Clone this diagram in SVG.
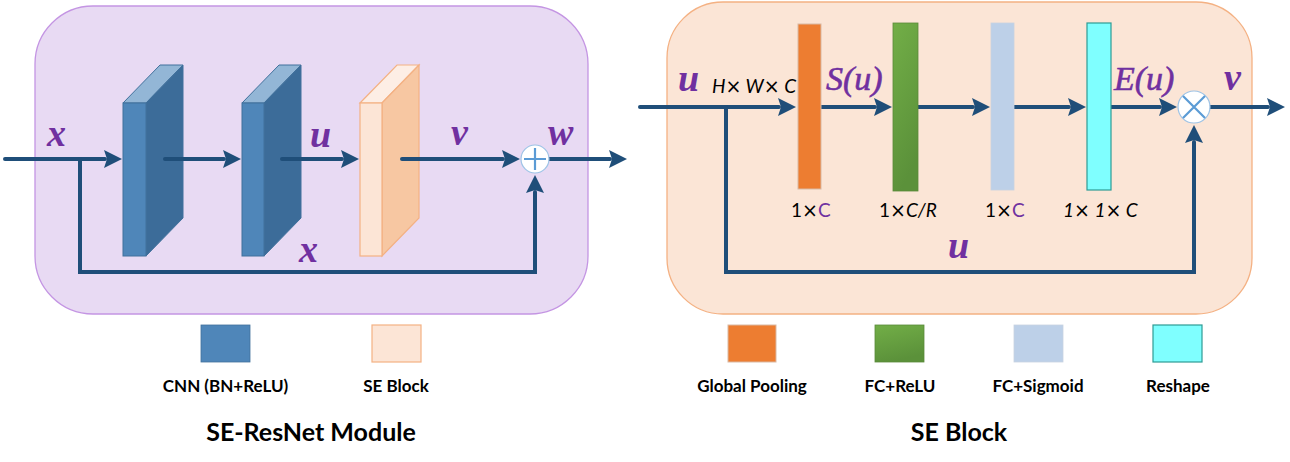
<svg xmlns="http://www.w3.org/2000/svg" width="1290" height="462" viewBox="0 0 1290 462">
<defs>
<marker id="arr" viewBox="0 0 18 18" refX="1" refY="9" markerWidth="18" markerHeight="18" markerUnits="userSpaceOnUse" orient="auto">
<path d="M0,0 L18,9 L0,18 L3,9 z" fill="#1F4E79"/>
</marker>
<linearGradient id="gGreen" x1="0" y1="0" x2="0.3" y2="1">
<stop offset="0" stop-color="#72AE47"/>
<stop offset="1" stop-color="#5B913A"/>
</linearGradient>
<style>
.conn{fill:none;stroke:#1F4E79;stroke-width:4;stroke-linecap:round;stroke-linejoin:miter}
.arrow{marker-end:url(#arr)}
.math{font-family:"Liberation Serif",serif;font-style:italic;font-weight:bold;fill:#7030A0;font-size:38px}
.math2{font-family:"Liberation Serif",serif;font-style:italic;fill:#7030A0;font-size:34px;stroke:#7030A0;stroke-width:0.6}
.dim{font-family:Lato,"Liberation Sans",sans-serif;font-size:19px;fill:#000}
.x{font-family:"DejaVu Sans",sans-serif;font-style:normal;font-weight:normal}
.leg{font-family:Lato,"Liberation Sans",sans-serif;font-weight:bold;font-size:17px;fill:#000;text-anchor:middle}
.title{font-family:Lato,"Liberation Sans",sans-serif;font-weight:bold;font-size:25px;fill:#000;text-anchor:middle}
.cnnF{fill:#4F86B9;stroke:#41719C;stroke-width:1}
.cnnS{fill:#3C6C99;stroke:#41719C;stroke-width:1}
.cnnT{fill:#93B6D6;stroke:#41719C;stroke-width:1}
.seF{fill:#FCE5D6;stroke:#F4B183;stroke-width:1.2}
.seS{fill:#F7C7A2;stroke:#F4B183;stroke-width:1.2}
.seT{fill:#FDEEE5;stroke:#F4B183;stroke-width:1.2}
.op{fill:#FFFFFF;stroke:#9DC3E6;stroke-width:1.2}
.opl{stroke:#5B9BD5;stroke-width:2.2;fill:none}
</style>
</defs>

<g id="panel-left">
<rect x="35" y="6" width="553" height="308" rx="58" ry="58" fill="#E8DAF3" stroke="#C495E3" stroke-width="1.3"/>
</g>
<g id="panel-right">
<rect x="667" y="2" width="585" height="312" rx="56" ry="56" fill="#FBE5D6" stroke="#F4B183" stroke-width="1.3"/>
</g>

<g id="cnn1">
<polygon class="cnnT" points="123,103 146,103 183,65 160,65"/>
<polygon class="cnnS" points="146,103 183,65 183,218 146,256"/>
<rect class="cnnF" x="123" y="103" width="23" height="153"/>
</g>
<g id="cnn2">
<polygon class="cnnT" points="242,103 264,103 301,65 279,65"/>
<polygon class="cnnS" points="264,103 301,65 301,218 264,256"/>
<rect class="cnnF" x="242" y="103" width="22" height="153"/>
</g>
<g id="se-block-3d">
<polygon class="seT" points="360,103 382,103 419,65 397,65"/>
<polygon class="seS" points="382,103 419,65 419,218 382,256"/>
<rect class="seF" x="360" y="103" width="22" height="153"/>
</g>

<g id="connectors">
<path class="conn arrow" d="M5,159 H105"/>
<path class="conn arrow" d="M165,159 H224"/>
<path class="conn arrow" d="M282,159 H342"/>
<path class="conn arrow" d="M402,159 H503"/>
<path class="conn arrow" d="M549,159 H610"/>
<path class="conn arrow" d="M80,159 V272 H535 V192"/>
<path class="conn arrow" d="M640,107 H779"/>
<path class="conn arrow" d="M821,107 H875"/>
<path class="conn arrow" d="M918,107 H973"/>
<path class="conn arrow" d="M1014,107 H1069"/>
<path class="conn arrow" d="M1111,107 H1160"/>
<path class="conn arrow" d="M1210,107 H1268"/>
<path class="conn arrow" d="M726,107 V272 H1194 V142"/>
</g>

<g id="sum">
<circle class="op" cx="535" cy="159" r="14"/>
<path class="opl" d="M524,159 H546 M535,148 V170"/>
</g>
<g id="mult">
<circle class="op" cx="1194" cy="107" r="16"/>
<path class="opl" d="M1183,96 L1205,118 M1205,96 L1183,118"/>
</g>

<g id="global-pooling">
<rect x="798" y="24" width="23" height="165" fill="#ED7D31" stroke="#D9B9A3" stroke-width="1"/>
</g>
<g id="fc-relu">
<rect x="893" y="23" width="25" height="168" fill="url(#gGreen)" stroke="#5A8A3A" stroke-width="0.8"/>
</g>
<g id="fc-sigmoid">
<rect x="991" y="23" width="23" height="167" fill="#BDD0E8" stroke="#C9D3E0" stroke-width="0.8"/>
</g>
<g id="reshape">
<rect x="1087" y="23" width="24" height="167" fill="#7FFFFF" stroke="#2E9B94" stroke-width="1.2"/>
</g>

<g id="labels-left">
<text class="math" x="47" y="146">x</text>
<text class="math" x="310" y="147">u</text>
<text class="math" x="451" y="145">v</text>
<text class="math" x="548" y="145">w</text>
<text class="math" x="299" y="262">x</text>
</g>
<g id="labels-right">
<text class="math" x="678" y="91">u</text>
<text class="dim" x="712" y="93" font-style="italic" font-size="17">H<tspan class="x">×</tspan> W<tspan class="x">×</tspan> C</text>
<text class="math2" x="826" y="90">S(u)</text>
<text class="math2" x="1114" y="90">E(u)</text>
<text class="math" x="1224" y="90">v</text>
<text class="math" x="948" y="258">u</text>
<text class="dim" x="791" y="217">1<tspan class="x">×</tspan><tspan fill="#7030A0">C</tspan></text>
<text class="dim" x="879" y="217">1<tspan class="x">×</tspan><tspan font-style="italic">C/R</tspan></text>
<text class="dim" x="985" y="217">1<tspan class="x">×</tspan><tspan fill="#7030A0">C</tspan></text>
<text class="dim" x="1063" y="217" font-style="italic">1<tspan class="x">×</tspan> 1<tspan class="x">×</tspan> C</text>
</g>

<g id="legend-left">
<rect x="201" y="325" width="49" height="37" fill="#4F86B9" stroke="#41719C" stroke-width="0.8"/>
<rect x="372" y="325" width="49" height="37" fill="#FCE5D6" stroke="#F4B183" stroke-width="1.2"/>
<text class="leg" x="225.5" y="392">CNN (BN+ReLU)</text>
<text class="leg" x="396" y="392">SE Block</text>
<text class="title" x="311" y="441">SE-ResNet Module</text>
</g>
<g id="legend-right">
<rect x="728" y="325" width="48" height="37" fill="#ED7D31" stroke="#D9B9A3" stroke-width="1"/>
<rect x="875" y="325" width="49" height="37" fill="url(#gGreen)" stroke="#5A8A3A" stroke-width="0.8"/>
<rect x="1014" y="325" width="49" height="37" fill="#BDD0E8" stroke="#C9D3E0" stroke-width="0.8"/>
<rect x="1153" y="325" width="49" height="37" fill="#7FFFFF" stroke="#2E9B94" stroke-width="1.2"/>
<text class="leg" x="752" y="392">Global Pooling</text>
<text class="leg" x="900" y="392">FC+ReLU</text>
<text class="leg" x="1038" y="392">FC+Sigmoid</text>
<text class="leg" x="1178" y="392">Reshape</text>
<text class="title" x="959" y="441">SE Block</text>
</g>
</svg>
